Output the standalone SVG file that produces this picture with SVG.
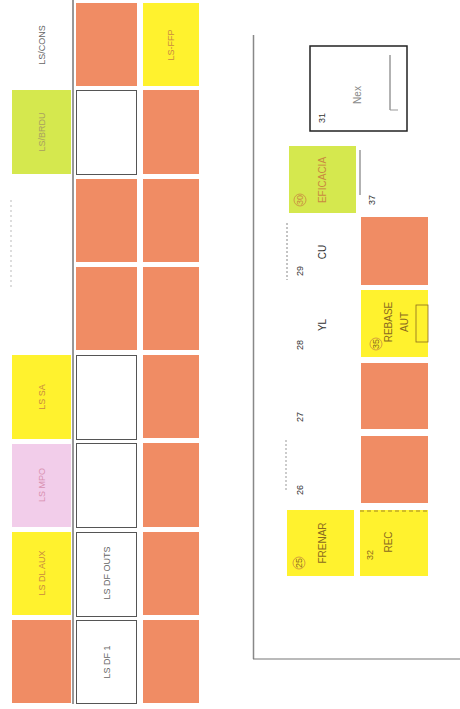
<svg xmlns="http://www.w3.org/2000/svg" width="460" height="709" viewBox="0 0 460 709">
<style>
.o{fill:#F08C64}
.y{fill:#FFF22E}
.g{fill:#D5E84E}
.p{fill:#F2CDEA}
.w{fill:#FFFFFF;stroke:#555;stroke-width:1}
.t{font-family:"Liberation Sans",Arial,sans-serif;font-size:9px;text-anchor:middle;dominant-baseline:central}
.ty{fill:#C98A40}
.tg{fill:#A9A060}
.tp{fill:#D890B0}
.tw{fill:#666}
.r{font-family:"Liberation Sans",Arial,sans-serif;font-size:10px;fill:#333;text-anchor:middle;dominant-baseline:central}
.rb{fill:#8A6A20}
.ro{fill:#C98A40}
.rg{fill:#888}
.n{font-size:9px}
.ln{stroke:#444;stroke-width:1;fill:none}
</style>
<rect width="460" height="709" fill="#FFFFFF"/>
<g id="grid">
  <line x1="73" y1="0" x2="73" y2="704" stroke="#333" stroke-width="1"/>
  <line x1="11" y1="200" x2="11" y2="290" stroke="#BBB" stroke-dasharray="2,3"/>
  <g id="c1r1"><text class="t tw" transform="translate(42,45) rotate(-90)">LS/CONS</text></g>
  <g id="c2r1"><rect class="o" x="76" y="3" width="61" height="83"/></g>
  <g id="c3r1"><rect class="y" x="143" y="3" width="56" height="83"/><text class="t ty" transform="translate(171,45) rotate(-90)">LS-FFP</text></g>
  <g id="c1r2"><rect class="g" x="12" y="90" width="59" height="84"/><text class="t tg" transform="translate(42,132) rotate(-90)">LS/BRDU</text></g>
  <g id="c2r2"><rect class="w" x="76.5" y="90.5" width="60" height="84"/></g>
  <g id="c3r2"><rect class="o" x="143" y="90" width="56" height="84"/></g>
  <g id="c2r3"><rect class="o" x="76" y="179" width="61" height="83"/></g>
  <g id="c3r3"><rect class="o" x="143" y="179" width="56" height="83"/></g>
  <g id="c2r4"><rect class="o" x="76" y="267" width="61" height="83"/></g>
  <g id="c3r4"><rect class="o" x="143" y="267" width="56" height="83"/></g>
  <g id="c1r5"><rect class="y" x="12" y="355" width="59" height="84"/><text class="t ty" transform="translate(42,397) rotate(-90)">LS SA</text></g>
  <g id="c2r5"><rect class="w" x="76.5" y="355.5" width="60" height="84"/></g>
  <g id="c3r5"><rect class="o" x="143" y="355" width="56" height="83"/></g>
  <g id="c1r6"><rect class="p" x="12" y="444" width="59" height="83"/><text class="t tp" transform="translate(42,485) rotate(-90)">LS MPO</text></g>
  <g id="c2r6"><rect class="w" x="76.5" y="443.5" width="60" height="84"/></g>
  <g id="c3r6"><rect class="o" x="143" y="443" width="56" height="84"/></g>
  <g id="c1r7"><rect class="y" x="12" y="532" width="59" height="83"/><text class="t ty" transform="translate(42,573) rotate(-90)">LS DL AUX</text></g>
  <g id="c2r7"><rect class="w" x="76.5" y="532.5" width="60" height="84"/><text class="t tw" transform="translate(107,573) rotate(-90)">LS DF OUTS</text></g>
  <g id="c3r7"><rect class="o" x="143" y="532" width="56" height="83"/></g>
  <g id="c1r8"><rect class="o" x="12" y="620" width="59" height="83"/></g>
  <g id="c2r8"><rect class="w" x="76.5" y="620.5" width="60" height="83"/><text class="t tw" transform="translate(107,662) rotate(-90)">LS DF 1</text></g>
  <g id="c3r8"><rect class="o" x="143" y="620" width="56" height="83"/></g>
</g>
<g id="frame">
  <line x1="253.5" y1="35" x2="253.5" y2="659" stroke="#888" stroke-width="1.5"/>
  <line x1="253" y1="659" x2="460" y2="659" stroke="#777" stroke-width="1.2"/>
</g>
<g id="n31">
  <rect x="310" y="46" width="97" height="85" fill="#FFFFFF" stroke="#222" stroke-width="1.5"/>
  <line x1="390" y1="55" x2="390" y2="110" stroke="#666"/>
  <line x1="390" y1="110" x2="398" y2="110" stroke="#999"/>
  <text class="r rg" transform="translate(357,95) rotate(-90)">Nex</text>
  <text class="r n" transform="translate(322,118) rotate(-90)">31</text>
</g>
<g id="n30">
  <rect class="g" x="289" y="146" width="67" height="67"/>
  <circle cx="300" cy="200" r="6" fill="none" stroke="#C98A40" stroke-width="0.8"/>
  <text class="r ro n" transform="translate(300,200) rotate(-90)">30</text>
  <text class="r ro" transform="translate(322,180) rotate(-90)">EFICACIA</text>
  <line x1="360" y1="150" x2="360" y2="195" stroke="#666"/>
  <text class="r n" transform="translate(372,200) rotate(-90)">37</text>
</g>
<g id="labels">
  <line x1="287" y1="223" x2="287" y2="280" stroke="#888" stroke-dasharray="2,2"/>
  <text class="r n" transform="translate(300,271) rotate(-90)">29</text>
  <text class="r" transform="translate(322,252) rotate(-90)">CU</text>
  <text class="r n" transform="translate(300,345) rotate(-90)">28</text>
  <text class="r" transform="translate(322,325) rotate(-90)">YL</text>
  <text class="r n" transform="translate(300,417) rotate(-90)">27</text>
  <line x1="286" y1="440" x2="286" y2="490" stroke="#999" stroke-dasharray="2,2"/>
  <text class="r n" transform="translate(300,490) rotate(-90)">26</text>
</g>
<g id="o1"><rect class="o" x="361" y="217" width="67" height="68"/></g>
<g id="n35">
  <rect class="y" x="361" y="290" width="67" height="67"/>
  <rect x="416" y="305" width="12" height="37" fill="none" stroke="#8A6A20" stroke-width="0.8"/>
  <circle cx="376" cy="344" r="6" fill="none" stroke="#C98A40" stroke-width="0.8"/>
  <text class="r rb n" transform="translate(376,344) rotate(-90)">35</text>
  <text class="r rb" transform="translate(388,322) rotate(-90)">REBASE</text>
  <text class="r rb" transform="translate(404,322) rotate(-90)">AUT</text>
</g>
<g id="o2"><rect class="o" x="361" y="363" width="67" height="66"/></g>
<g id="o3"><rect class="o" x="361" y="436" width="67" height="67"/></g>
<g id="n25">
  <rect class="y" x="287" y="510" width="67" height="66"/>
  <circle cx="299" cy="563" r="6" fill="none" stroke="#C98A40" stroke-width="0.8"/>
  <text class="r rb n" transform="translate(299,563) rotate(-90)">25</text>
  <text class="r rb" transform="translate(322,543) rotate(-90)">FRENAR</text>
</g>
<g id="n32">
  <rect class="y" x="360" y="510" width="68" height="66"/>
  <line x1="360" y1="511" x2="428" y2="511" stroke="#8A6A20" stroke-width="0.8" stroke-dasharray="4,3"/>
  <text class="r rb n" transform="translate(370,555) rotate(-90)">32</text>
  <text class="r rb" transform="translate(388,542) rotate(-90)">REC</text>
</g>
</svg>
